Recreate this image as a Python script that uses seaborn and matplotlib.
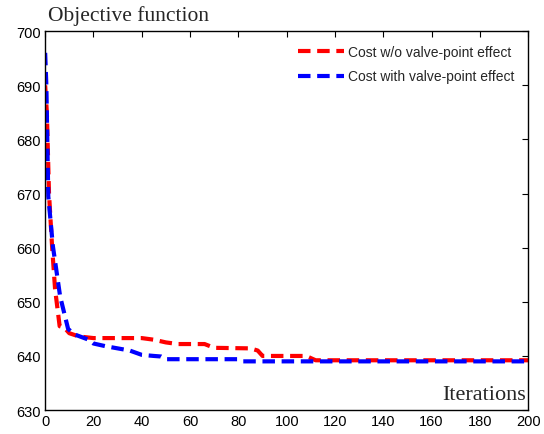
import seaborn as sns
import matplotlib.pyplot as plt
import pandas as pd

# breakpoints (iteration, objective value)
iter_red = [0, 0.7, 1.6, 2.9, 4.1, 6, 8, 10, 14, 20, 40, 45, 50, 55, 66, 70, 85, 88, 90, 108, 112, 200]
cost_red = [690, 685, 670, 660, 652.4, 645.5, 645.2, 644.2, 643.6, 643.3, 643.3, 643.0, 642.5, 642.2, 642.2, 641.5, 641.4, 641.0, 640.0, 640.0, 639.2, 639.2]

iter_blue = [0, 0.5, 1.3, 3.2, 6.2, 9.5, 12, 15, 18, 20, 25, 30, 35, 40, 45, 48, 50, 80, 82, 200]
cost_blue = [696, 690, 669.5, 660.3, 651, 645, 644, 643.5, 643, 642.3, 641.8, 641.4, 641.0, 640.2, 640.0, 639.9, 639.4, 639.4, 639.0, 639.0]

df_red = pd.DataFrame({"Iterations": iter_red, "Cost": cost_red})
df_blue = pd.DataFrame({"Iterations": iter_blue, "Cost": cost_blue})

sns.set_style("white")
plt.rcParams['font.family'] = ['Liberation Sans', 'DejaVu Sans']

fig, ax = plt.subplots(figsize=(5.44, 4.35), dpi=100)
fig.subplots_adjust(left=0.083, right=0.971, bottom=0.055, top=0.926)

sns.lineplot(data=df_red, x="Iterations", y="Cost", ax=ax, color="#ff0000",
             linewidth=3, linestyle=(0, (3, 1.6)), label="Cost w/o valve-point effect")
sns.lineplot(data=df_blue, x="Iterations", y="Cost", ax=ax, color="#0000ff",
             linewidth=3, linestyle=(0, (3, 1.6)), label="Cost with valve-point effect")

ax.set_xlim(0, 200)
ax.set_ylim(630, 700)
ax.set_xticks(range(0, 201, 20))
ax.set_yticks(range(630, 701, 10))
ax.tick_params(direction="in", length=4, width=0.8, labelsize=10.5, top=True, right=True,
               color="black", labelcolor="black", pad=3)
for s in ax.spines.values():
    s.set_color("black")
    s.set_linewidth(1.0)
ax.set_xlabel("")
ax.set_ylabel("")

ax.text(0.996, 0.015, "Iterations", transform=ax.transAxes, ha="right", va="bottom",
        fontsize=16, family="Liberation Serif")
fig.text(0.088, 0.94, "Objective function", ha="left", va="bottom",
         fontsize=15.5, family="Liberation Serif")

ax.legend(loc="upper right", frameon=False, fontsize=10, handlelength=3.3,
          handletextpad=0.3, borderaxespad=0.6, labelspacing=0.75)

plt.savefig("out.png", dpi=100)
